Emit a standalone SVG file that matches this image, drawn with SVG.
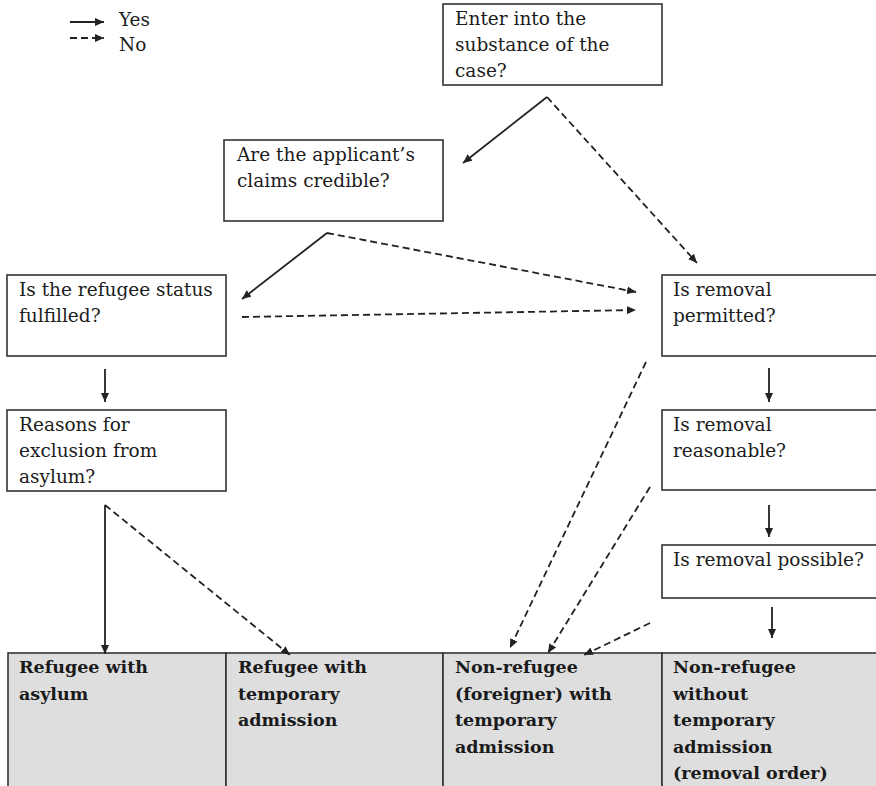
<svg xmlns="http://www.w3.org/2000/svg" width="876" height="786" viewBox="0 0 876 786">
<defs>
<marker id="ah" markerUnits="userSpaceOnUse" markerWidth="10" markerHeight="8" refX="9" refY="4" orient="auto">
<path d="M0,0 L9,4 L0,8 Z" fill="#222"/>
</marker>
<style>
.box{fill:#fff;stroke:#333;stroke-width:1.6}
.out{fill:#dedede;stroke:#333;stroke-width:1.6}
.t{font-family:"DejaVu Serif","Liberation Serif",serif;font-size:18.5px;fill:#1c1c1c}
.b{font-family:"DejaVu Serif","Liberation Serif",serif;font-size:17.5px;font-weight:bold;fill:#1a1a1a}
.s{fill:none;stroke:#222;stroke-width:1.8;marker-end:url(#ah)}
.d{fill:none;stroke:#222;stroke-width:1.8;stroke-dasharray:7 4;marker-end:url(#ah)}
</style>
</defs>
<rect width="876" height="786" fill="#fff"/>
<g id="legend">
<line class="s" x1="70" y1="22" x2="104" y2="22"/>
<line class="d" x1="70" y1="38" x2="104" y2="38"/>
<text class="t" x="119" y="26">Yes</text>
<text class="t" x="119" y="51">No</text>
</g>
<g id="enter">
<rect class="box" x="443" y="4" width="219" height="81"/>
<text class="t" x="455" y="25">Enter into the</text>
<text class="t" x="455" y="51">substance of the</text>
<text class="t" x="455" y="77">case?</text>
</g>
<g id="claims">
<rect class="box" x="224" y="140" width="219" height="81"/>
<text class="t" x="237" y="161">Are the applicant’s</text>
<text class="t" x="237" y="187">claims credible?</text>
</g>
<g id="status">
<rect class="box" x="7" y="275" width="219" height="81"/>
<text class="t" x="19" y="296">Is the refugee status</text>
<text class="t" x="19" y="322">fulfilled?</text>
</g>
<g id="exclusion">
<rect class="box" x="7" y="410" width="219" height="81"/>
<text class="t" x="19" y="431">Reasons for</text>
<text class="t" x="19" y="457">exclusion from</text>
<text class="t" x="19" y="483">asylum?</text>
</g>
<g id="permitted">
<rect class="box" x="662" y="275" width="216" height="81"/>
<text class="t" x="673" y="296">Is removal</text>
<text class="t" x="673" y="322">permitted?</text>
</g>
<g id="reasonable">
<rect class="box" x="662" y="410" width="216" height="80"/>
<text class="t" x="673" y="431">Is removal</text>
<text class="t" x="673" y="457">reasonable?</text>
</g>
<g id="possible">
<rect class="box" x="662" y="545" width="216" height="53"/>
<text class="t" x="673" y="566">Is removal possible?</text>
</g>
<g id="asylum">
<rect class="out" x="8" y="653" width="218" height="134"/>
<text class="b" x="19" y="673">Refugee with</text>
<text class="b" x="19" y="700">asylum</text>
</g>
<g id="refugee-temp">
<rect class="out" x="226" y="653" width="217" height="134"/>
<text class="b" x="238" y="673">Refugee with</text>
<text class="b" x="238" y="700">temporary</text>
<text class="b" x="238" y="726">admission</text>
</g>
<g id="nonrefugee-temp">
<rect class="out" x="443" y="653" width="219" height="134"/>
<text class="b" x="455" y="673">Non-refugee</text>
<text class="b" x="455" y="700">(foreigner) with</text>
<text class="b" x="455" y="726">temporary</text>
<text class="b" x="455" y="753">admission</text>
</g>
<g id="removal-order">
<rect class="out" x="662" y="653" width="216" height="134"/>
<text class="b" x="673" y="673">Non-refugee</text>
<text class="b" x="673" y="700">without</text>
<text class="b" x="673" y="726">temporary</text>
<text class="b" x="673" y="753">admission</text>
<text class="b" x="673" y="779">(removal order)</text>
</g>
<g id="connectors">
<line class="s" x1="547" y1="97" x2="463" y2="163"/>
<line class="d" x1="547" y1="97" x2="697" y2="263"/>
<line class="s" x1="327" y1="233" x2="242" y2="299"/>
<line class="d" x1="327" y1="233" x2="636" y2="292"/>
<line class="d" x1="242" y1="317" x2="636" y2="310"/>
<line class="s" x1="105" y1="369" x2="105" y2="402"/>
<line class="s" x1="105" y1="505" x2="105" y2="654"/>
<line class="d" x1="105" y1="505" x2="290" y2="655"/>
<line class="s" x1="769" y1="368" x2="769" y2="402"/>
<line class="s" x1="769" y1="505" x2="769" y2="537"/>
<line class="s" x1="772" y1="607" x2="772" y2="638"/>
<line class="d" x1="646" y1="362" x2="510" y2="648"/>
<line class="d" x1="650" y1="487" x2="548" y2="653"/>
<line class="d" x1="650" y1="623" x2="584" y2="655"/>
</g>
</svg>
